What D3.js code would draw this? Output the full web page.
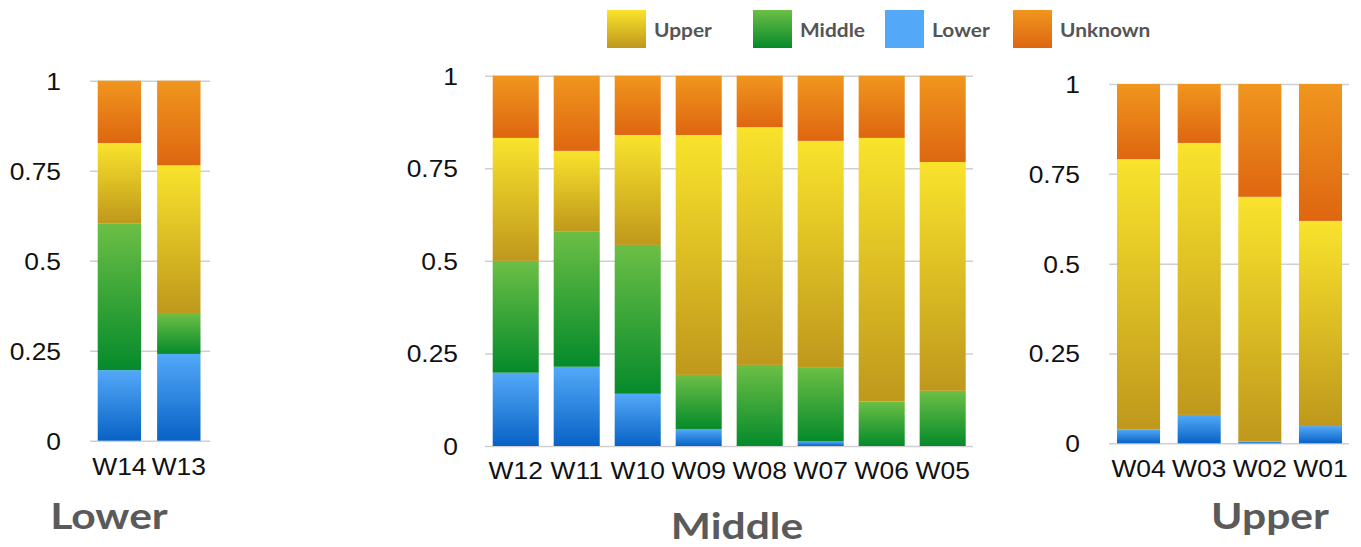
<!DOCTYPE html>
<html>
<head>
<meta charset="utf-8">
<script src="https://cdn.jsdelivr.net/npm/d3@7"></script>
<style>
  body { margin: 0; background: #fff; }
  svg { display: block; }
</style>
</head>
<body>
<script>
// ---------------- DATA ----------------
const seriesKeys = ["lower", "middle", "upper", "unknown"];
const legendLabels = ["Upper", "Middle", "Lower", "Unknown"];
const tickValues = [0, 0.25, 0.5, 0.75, 1];
const tickLabels = ["0", "0.25", "0.5", "0.75", "1"];

// Lower panel
const lowerCats    = ["W14", "W13"];
const lowerLower   = [0.196, 0.241];
const lowerMiddle  = [0.408, 0.111];
const lowerUpper   = [0.223, 0.413];
const lowerUnknown = [0.173, 0.235];

// Middle panel
const middleCats    = ["W12", "W11", "W10", "W09", "W08", "W07", "W06", "W05"];
const middleLower   = [0.198, 0.214, 0.141, 0.046, 0.000, 0.012, 0.000, 0.000];
const middleMiddle  = [0.302, 0.366, 0.402, 0.146, 0.219, 0.201, 0.120, 0.149];
const middleUpper   = [0.332, 0.217, 0.297, 0.648, 0.642, 0.611, 0.712, 0.618];
const middleUnknown = [0.168, 0.203, 0.160, 0.160, 0.139, 0.176, 0.168, 0.233];

// Upper panel
const upperCats    = ["W04", "W03", "W02", "W01"];
const upperLower   = [0.039, 0.079, 0.005, 0.048];
const upperMiddle  = [0.000, 0.000, 0.000, 0.000];
const upperUpper   = [0.752, 0.757, 0.681, 0.571];
const upperUnknown = [0.209, 0.164, 0.314, 0.381];

// ---------------- STYLE / LAYOUT ----------------
const colors = {
  upper:   ["#f9e32c", "#bf981c"],
  middle:  ["#6cbf45", "#058a2b"],
  lower:   ["#53a9f8", "#0862c5"],
  unknown: ["#f0961e", "#de6610"]
};
const SX = 1.1;

const panels = [
  { title: "Lower", cats: lowerCats, vals: [lowerLower, lowerMiddle, lowerUpper, lowerUnknown],
    band: [97.7, 200.5], pad: 0.27, yr: [440.7, 80.7], grid: [90, 210], labRight: 61,
    xlabBase: 475, tx: 109, ty: 529 },
  { title: "Middle", cats: middleCats, vals: [middleLower, middleMiddle, middleUpper, middleUnknown],
    band: [492.7, 965.7], pad: 0.245, yr: [446, 75.7], grid: [485, 973], labRight: 458,
    xlabBase: 479, tx: 737, ty: 539 },
  { title: "Upper", cats: upperCats, vals: [upperLower, upperMiddle, upperUpper, upperUnknown],
    band: [1117, 1342], pad: 0.29, yr: [443.3, 84], grid: [1109, 1349], labRight: 1080,
    xlabBase: 477, tx: 1270, ty: 529 }
];

const svg = d3.select("body").append("svg")
  .attr("width", 1361).attr("height", 547);

// gradients
const defs = svg.append("defs");
Object.entries(colors).forEach(([k, c]) => {
  const g = defs.append("linearGradient").attr("id", "g-" + k)
    .attr("x1", 0).attr("y1", 0).attr("x2", 0).attr("y2", 1);
  g.append("stop").attr("offset", "0%").attr("stop-color", c[0]);
  g.append("stop").attr("offset", "100%").attr("stop-color", c[1]);
});

function stretched(sel, x, y, s) {
  return sel.attr("transform", `translate(${x},${y}) scale(${s || SX},1)`);
}

panels.forEach(p => {
  const rows = p.cats.map((c, i) => {
    const r = { cat: c };
    seriesKeys.forEach((k, j) => r[k] = p.vals[j][i]);
    return r;
  });
  const x = d3.scaleBand().domain(p.cats).range(p.band).paddingInner(p.pad).paddingOuter(0);
  const y = d3.scaleLinear().domain([0, 1]).range(p.yr);
  const g = svg.append("g");

  // gridlines via axis
  const gridAxis = d3.axisLeft(y).tickValues(tickValues)
    .tickSize(-(p.grid[1] - p.grid[0])).tickFormat("");
  const ga = g.append("g").attr("transform", `translate(${p.grid[0]},0)`).call(gridAxis);
  ga.select(".domain").remove();
  ga.selectAll(".tick line").attr("stroke", "#d0d0d0").attr("stroke-width", 1.5);

  // tick labels
  tickValues.forEach((t, i) => {
    stretched(g.append("text"), p.labRight, y(t) + 9)
      .attr("text-anchor", "end")
      .attr("font-family", "Liberation Sans, Arial, sans-serif")
      .attr("font-size", 24)
      .attr("fill", "#111")
      .text(tickLabels[i]);
  });

  // stacked bars
  const stack = d3.stack().keys(seriesKeys)(rows);
  stack.forEach(layer => {
    g.append("g").attr("fill", `url(#g-${layer.key})`)
      .selectAll("rect").data(layer).join("rect")
      .attr("x", d => x(d.data.cat))
      .attr("width", x.bandwidth())
      .attr("y", d => y(d[1]))
      .attr("height", d => Math.max(0, y(d[0]) - y(d[1])));
  });

  // x labels
  p.cats.forEach(c => {
    stretched(g.append("text"), x(c) + x.bandwidth() / 2, p.xlabBase)
      .attr("text-anchor", "middle")
      .attr("font-family", "Liberation Sans, Arial, sans-serif")
      .attr("font-size", 24)
      .attr("fill", "#111")
      .text(c);
  });

  // panel title
  stretched(g.append("text"), p.tx, p.ty, 1.15)
    .attr("text-anchor", "middle")
    .attr("font-family", "Lato, 'Open Sans', sans-serif")
    .attr("font-weight", 700)
    .attr("font-size", 37)
    .attr("fill", "#5a5a5a")
    .text(p.title);
});

// legend
const legendKeys = ["upper", "middle", "lower", "unknown"];
const legendSwatchX = [607, 753, 885, 1013];
const lg = svg.append("g");
legendKeys.forEach((k, i) => {
  lg.append("rect")
    .attr("x", legendSwatchX[i]).attr("y", 10)
    .attr("width", 39).attr("height", 38)
    .attr("fill", k === "lower" ? colors.lower[0] : `url(#g-${k})`);
  stretched(lg.append("text"), legendSwatchX[i] + 47, 37)
    .attr("font-family", "Lato, 'Open Sans', sans-serif")
    .attr("font-weight", 700)
    .attr("font-size", 19)
    .attr("fill", "#555")
    .text(legendLabels[i]);
});
</script>
</body>
</html>
